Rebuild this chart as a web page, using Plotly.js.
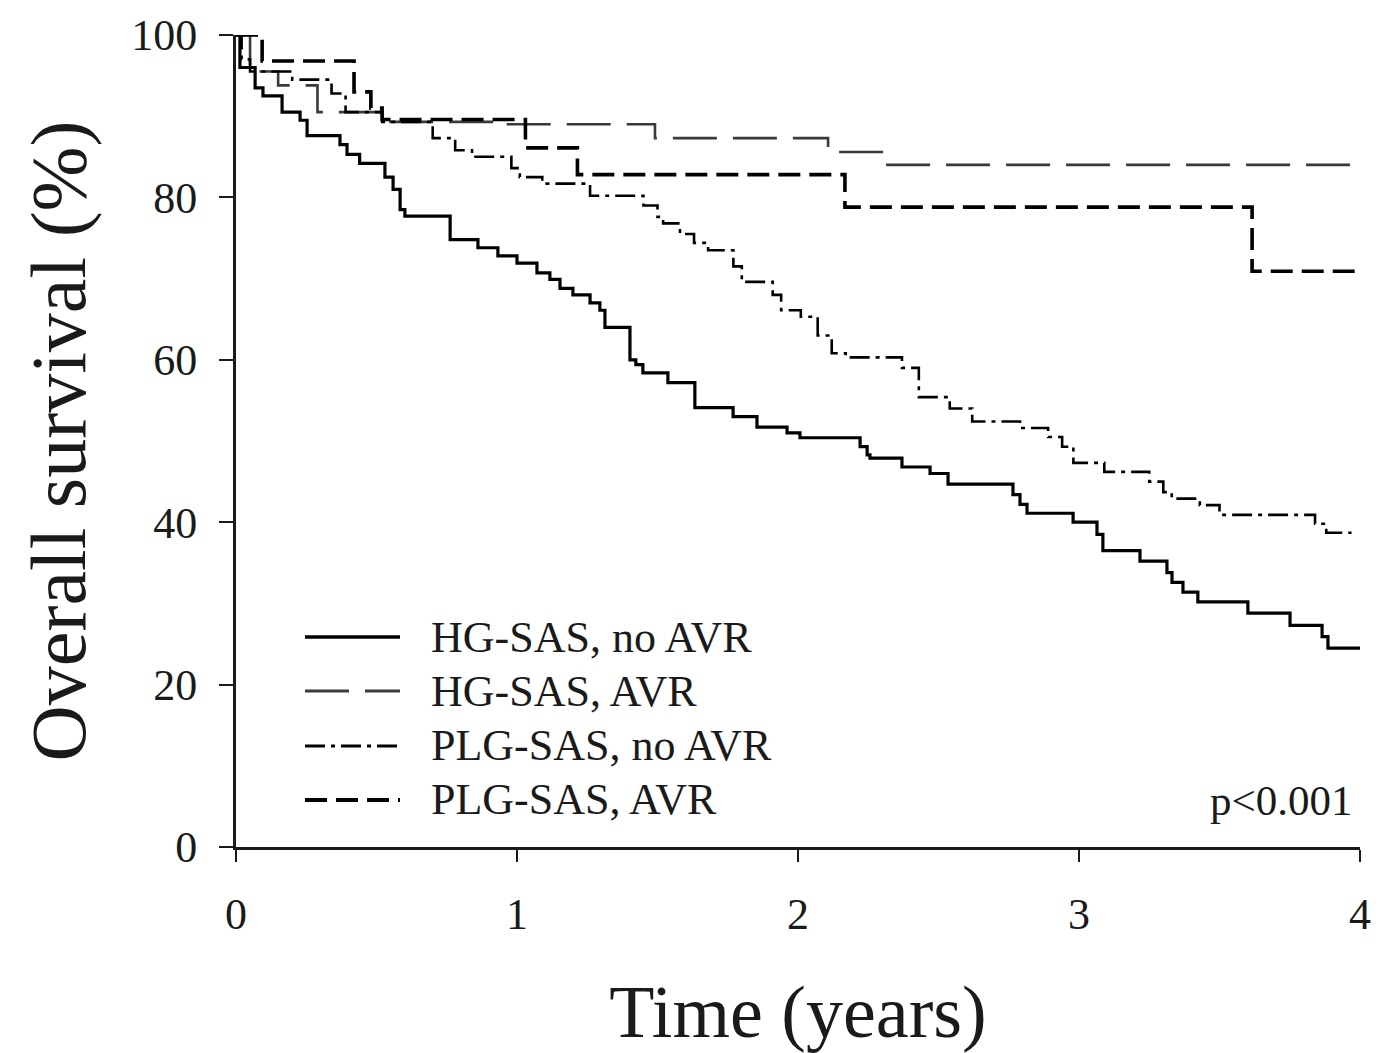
<!DOCTYPE html>
<html>
<head>
<meta charset="utf-8">
<script src="https://cdn.plot.ly/plotly-3.0.1.min.js"></script>
<style>html,body{margin:0;padding:0;background:#fff;}#chart{width:1380px;height:1053px;}</style>
</head>
<body>
<div id="chart"></div>
<script>
// ---- data (time in years, overall survival in %) ----
var seriesNames = ['HG-SAS, no AVR', 'HG-SAS, AVR', 'PLG-SAS, no AVR', 'PLG-SAS, AVR'];

var tHgNoAvr = [0, 0.014, 0.068, 0.096, 0.164, 0.228, 0.253, 0.370, 0.395, 0.440, 0.530, 0.559, 0.584, 0.601, 0.762, 0.861, 0.932, 1.0, 1.071, 1.117, 1.153, 1.199, 1.260, 1.295, 1.313, 1.402, 1.423, 1.448, 1.537, 1.633, 1.769, 1.854, 1.961, 2.007, 2.221, 2.246, 2.256, 2.370, 2.470, 2.534, 2.765, 2.790, 2.815, 2.979, 3.064, 3.085, 3.217, 3.313, 3.331, 3.370, 3.423, 3.601, 3.751, 3.865, 3.886, 4.0];
var sHgNoAvr = [100, 96, 93.5, 92.5, 90.5, 89.5, 87.6, 86.5, 85.3, 84.2, 82.5, 81.0, 78.5, 77.7, 74.8, 73.8, 72.8, 71.9, 70.7, 69.9, 68.8, 68.0, 67.0, 66.1, 64.0, 60.0, 59.4, 58.4, 57.2, 54.1, 53.0, 51.7, 51.0, 50.4, 49.3, 48.3, 47.9, 46.8, 46.0, 44.7, 43.4, 42.2, 41.1, 40.0, 38.5, 36.5, 35.2, 33.8, 32.6, 31.4, 30.2, 28.8, 27.3, 25.9, 24.5, 24.5];

var tHgAvr = [0, 0.05, 0.15, 0.29, 0.55, 0.95, 1.491, 2.107, 2.31, 4.0];
var sHgAvr = [100, 95.5, 93.8, 90.5, 89.3, 89.0, 87.3, 85.6, 84.0, 84.0];

var tPlgNoAvr = [0, 0.02, 0.05, 0.20, 0.34, 0.39, 0.52, 0.70, 0.78, 0.84, 0.98, 1.01, 1.09, 1.26, 1.45, 1.50, 1.52, 1.58, 1.63, 1.68, 1.77, 1.80, 1.91, 1.94, 2.01, 2.07, 2.12, 2.17, 2.37, 2.43, 2.54, 2.62, 2.79, 2.89, 2.94, 2.98, 3.09, 3.25, 3.30, 3.33, 3.43, 3.50, 3.84, 3.88, 3.97];
var sPlgNoAvr = [100, 97, 95.5, 94.5, 92.8, 90.5, 89.3, 87.3, 85.8, 85.0, 83.6, 82.5, 81.7, 80.2, 79.0, 77.6, 76.8, 75.5, 74.4, 73.5, 71.5, 69.6, 68.0, 66.1, 65.3, 63.0, 60.8, 60.3, 59.0, 55.4, 54.0, 52.4, 51.6, 50.5, 49.3, 47.3, 46.2, 45.0, 43.7, 42.9, 42.1, 40.9, 39.8, 38.7, 38.7];

var tPlgAvr = [0, 0.093, 0.42, 0.48, 0.52, 1.03, 1.215, 2.167, 3.616, 4.0];
var sPlgAvr = [100, 96.8, 93.0, 91.0, 89.6, 86.1, 82.8, 78.8, 70.9, 70.9];

var xTickVals = [0, 1, 2, 3, 4];
var xTickText = ['0', '1', '2', '3', '4'];
var yTickVals = [0, 20, 40, 60, 80, 100];
var yTickText = ['0', '20', '40', '60', '80', '100'];
var xTitle = 'Time (years)';
var yTitle = 'Overall survival (%)';
var pValueText = 'p&lt;0.001';

// ---- styling ----
var FONT = '"Liberation Serif", "Times New Roman", Times, serif';
var INK = '#1a1a1a';

var lineStyles = [
  {color: '#000000', width: 3.2, dash: 'solid'},
  {color: '#3a3a3a', width: 2.6, dash: '44px,16px'},
  {color: '#000000', width: 2.6, dash: '20px,6px,4px,6px'},
  {color: '#000000', width: 3.6, dash: '22px,9px'}
];
var xs = [tHgNoAvr, tHgAvr, tPlgNoAvr, tPlgAvr];
var ys = [sHgNoAvr, sHgAvr, sPlgNoAvr, sPlgAvr];

var traces = seriesNames.map(function (name, i) {
  return {
    type: 'scatter', mode: 'lines', name: name,
    x: xs[i], y: ys[i],
    line: {shape: 'hv', color: lineStyles[i].color, width: lineStyles[i].width, dash: lineStyles[i].dash},
    hoverinfo: 'skip', showlegend: false
  };
});

// manual legend (long line samples with a gap before the text, like the original)
var legendRowsY = [0.2586, 0.1921, 0.1244, 0.0579];
var legendLineX0 = 0.0614, legendLineX1 = 0.1459, legendTextX = 0.1717;
var shapes = [], annotations = [];
seriesNames.forEach(function (name, i) {
  var st = lineStyles[i];
  shapes.push({
    type: 'line', xref: 'paper', yref: 'paper',
    x0: legendLineX0, x1: legendLineX1, y0: legendRowsY[i], y1: legendRowsY[i],
    line: {color: st.color, width: st.width + 0.4, dash: st.dash}
  });
  annotations.push({
    xref: 'paper', yref: 'paper', x: legendTextX, y: legendRowsY[i],
    xanchor: 'left', yanchor: 'middle', text: name, showarrow: false,
    font: {family: FONT, size: 44, color: INK}
  });
});
annotations.push({
  xref: 'paper', yref: 'paper', x: 0.9955, y: 0.026, xanchor: 'right', yanchor: 'bottom',
  text: pValueText, showarrow: false,
  font: {family: FONT, size: 43, color: INK}
});

var layout = {
  width: 1380, height: 1053,
  margin: {l: 236, r: 20, t: 35, b: 206, pad: 0},
  paper_bgcolor: '#ffffff', plot_bgcolor: '#ffffff',
  font: {family: FONT, color: INK, size: 44},
  showlegend: false,
  xaxis: {
    range: [0, 4], tickvals: xTickVals, ticktext: xTickText,
    showgrid: false, zeroline: false,
    showline: true, linecolor: INK, linewidth: 3,
    ticks: 'outside', ticklen: 12, tickwidth: 2, tickcolor: INK,
    ticklabelstandoff: 14,
    tickfont: {family: FONT, size: 44, color: INK},
    title: {text: xTitle, font: {family: FONT, size: 74, color: INK}, standoff: 56},
    fixedrange: true
  },
  yaxis: {
    range: [0, 100], tickvals: yTickVals, ticktext: yTickText,
    showgrid: false, zeroline: false,
    showline: true, linecolor: INK, linewidth: 3,
    ticks: 'outside', ticklen: 14, tickwidth: 2, tickcolor: INK,
    ticklabelstandoff: 13,
    tickfont: {family: FONT, size: 44, color: INK},
    title: {text: yTitle, font: {family: FONT, size: 78, color: INK}, standoff: 20},
    fixedrange: true
  },
  shapes: shapes,
  annotations: annotations
};

Plotly.newPlot('chart', traces, layout, {displayModeBar: false, staticPlot: true});
</script>
</body>
</html>
